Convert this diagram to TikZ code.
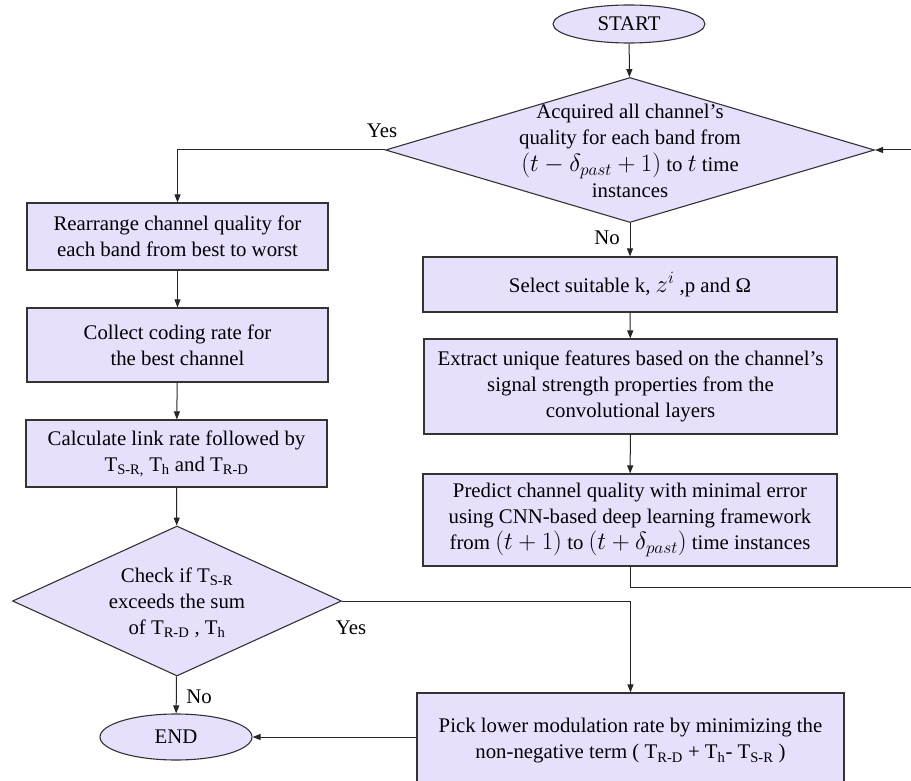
\documentclass[tikz,border=0pt]{standalone}
\usepackage{fontspec}
\setmainfont{Liberation Serif}
\usetikzlibrary{shapes.geometric,arrows.meta}

\definecolor{lav}{HTML}{E6E0FC}
\definecolor{edgegray}{HTML}{333333}

\newcommand\bigmath[1]{{\fontsize{23}{26}\selectfont$#1$}}

\begin{document}
\begin{tikzpicture}[x=1pt,y=-1pt,
		font=\fontsize{20.8}{26}\selectfont,
		box/.style={draw=edgegray,fill=lav,line width=1.1pt,rectangle,align=center,inner sep=0pt},
		term/.style={draw=edgegray,fill=lav,line width=1.1pt,ellipse,inner sep=0pt},
		decision/.style={draw=edgegray,fill=lav,line width=1.1pt,diamond,inner sep=0pt},
		arr/.style={-{Triangle[length=8pt,width=6pt]},line width=1pt,draw=black!85}]
	\clip (0,0) rectangle (911,781);

	%% right column
	\node[term,minimum width=152pt,minimum height=38pt] (start) at (629,24) {START};
	\node[decision,minimum width=489pt,minimum height=145pt] (q1) at (630,150) {};
	\node[align=center] (q1text) at (630,151) {Acquired all channel’s\\quality for each band from\\[1pt]\bigmath{\bigl(t-\delta_{past}+1\bigr)} to \bigmath{t} time\\instances};
	\node[box,minimum width=414pt,minimum height=55pt] (sel) at (630,284.5) {Select suitable k, \bigmath{z^i} ,p and Ω};
	\node[box,minimum width=413pt,minimum height=95pt] (ext) at (630.5,386.5) {Extract unique features based on the channel’s\\signal strength properties from the\\convolutional layers};
	\node[box,minimum width=414pt,minimum height=92pt] (pred) at (630,520) {Predict channel quality with minimal error\\using CNN-based deep learning framework\\from \bigmath{(t+1)} to \bigmath{(t+\delta_{past})} time instances};
	\node[box,minimum width=427pt,minimum height=96pt] (pick) at (630.5,741) {Pick lower modulation rate by minimizing the\\non-negative term ( T\textsubscript{R-D} + T\textsubscript{h}- T\textsubscript{S-R} )};

	%% left column
	\node[box,minimum width=301pt,minimum height=67pt] (rear) at (177.5,236.5) {Rearrange channel quality for\\each band from best to worst};
	\node[box,minimum width=301pt,minimum height=74pt] (coll) at (177.5,345) {Collect coding rate for\\the best channel};
	\node[box,minimum width=301pt,minimum height=67pt] (calc) at (176.5,453.5) {Calculate link rate followed by\\T\textsubscript{S-R,} T\textsubscript{h} and T\textsubscript{R-D}};
	\node[decision,minimum width=329pt,minimum height=150pt] (q2) at (177,601) {};
	\node[align=center] (q2text) at (177,603) {Check if T\textsubscript{S-R}\\exceeds the sum\\of T\textsubscript{R-D} , T\textsubscript{h}};
	\node[term,minimum width=152pt,minimum height=46pt] (stop) at (176,737) {END};

	%% branch labels
	\node (yes1) at (382,131) {Yes};
	\node (no1) at (607,238) {No};
	\node (yes2) at (351,628) {Yes};
	\node (no2) at (199,697) {No};

	\coordinate (back) at (930,587);

	%% connectors
	\draw[arr] (start) -- (q1);
	\draw[arr] (q1.west) -| (rear.north);
	\draw[arr] (q1) -- (sel);
	\draw[arr] (sel) -- (ext);
	\draw[arr] (ext) -- (pred);
	\draw[arr] (pred.south) |- (back) |- (q1.east);
	\draw[arr] (rear) -- (coll);
	\draw[arr] (coll) -- (calc);
	\draw[arr] (calc) -- (q2);
	\draw[arr] (q2) -- (stop);
	\draw[arr] (q2.east) -| (pick.north);
	\draw[arr] (stop.east -| pick.west) -- (stop.east);
\end{tikzpicture}
\end{document}
